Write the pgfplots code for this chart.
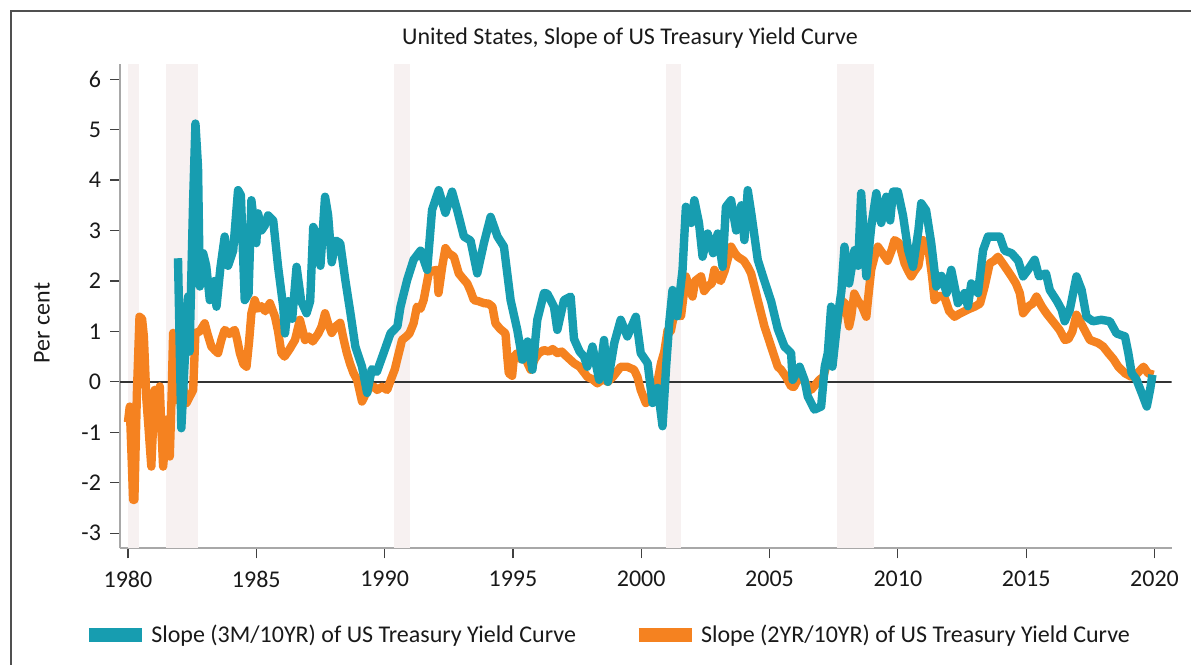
\documentclass[border=0pt]{standalone}
\usepackage{pgfplots}
\pgfplotsset{compat=1.18}
\usepackage{fontspec}
\setmainfont{Carlito}
\definecolor{teal3m}{HTML}{179DB0}
\definecolor{orange2y}{HTML}{F58220}
\definecolor{recess}{HTML}{F7F1F1}
\definecolor{axisgray}{HTML}{A8A8A8}
\definecolor{framegray}{HTML}{505050}
\definecolor{tickdark}{HTML}{404040}

\begin{document}
\begin{tikzpicture}
\useasboundingbox (0,0) rectangle (595.5pt,-332.5pt);
\clip (0,0) rectangle (595.5pt,-332.5pt);
\draw[framegray, line width=0.8pt] (5.5pt,-400pt) -- (5.5pt,-5.5pt) -- (700pt,-5.5pt);
\node[font=\fontsize{12}{14}\selectfont, text=black!90] at (315pt,-19pt) {United States, Slope of US Treasury Yield Curve};
\node[rotate=90, font=\fontsize{12}{14}\selectfont, text=black!90] at (21pt,-161.5pt) {Per cent};

\begin{axis}[
  at={(60pt,-274.15pt)}, anchor=south west,
  scale only axis, width=525.85pt, height=242.15pt,
  xmin=1979.69, xmax=2020.67, ymin=-3.30, ymax=6.30,
  xtick={1980,1985,1990,1995,2000,2005,2010,2015,2020},
  xticklabels={1980,1985,1990,1995,2000,2005,2010,2015,2020},
  ytick={-3,-2,-1,0,1,2,3,4,5,6},
  yticklabels={-3,-2,-1,0,1,2,3,4,5,6},
  axis x line*=bottom, axis y line*=left,
  separate axis lines,
  every outer x axis line/.append style={draw=axisgray, line width=1pt},
  every outer y axis line/.append style={draw=axisgray, line width=1pt},
  axis line style={draw=axisgray, line width=1pt},
  tick align=outside, major tick length=5pt,
  every tick/.style={tickdark, line width=0.6pt},
  ticklabel style={font=\fontsize{12}{14}\selectfont, text=black!90},
  xticklabel style={yshift=-3pt},
  yticklabel style={xshift=-1pt},
  clip=true,
  legend style={at={(axis description cs:-0.0367,-0.179)}, anchor=west,
    draw=none, fill=none, inner xsep=0pt, inner ysep=0pt,
    nodes={inner xsep=1.25pt},
    font=\fontsize{12}{14}\selectfont, text=black!90,
    /tikz/every even column/.append style={column sep=26.5pt}},
  legend columns=2,
  legend cell align=left,
  legend image code/.code={\draw[#1, line width=7pt, line cap=butt] (0pt,0pt) -- (26.5pt,0pt);},
]
% recession shading
\fill[recess] (axis cs:1980.0,-3.3) rectangle (axis cs:1980.42,6.3);
\fill[recess] (axis cs:1981.49,-3.3) rectangle (axis cs:1982.73,6.3);
\fill[recess] (axis cs:1990.38,-3.3) rectangle (axis cs:1990.99,6.3);
\fill[recess] (axis cs:2000.97,-3.3) rectangle (axis cs:2001.54,6.3);
\fill[recess] (axis cs:2007.64,-3.3) rectangle (axis cs:2009.07,6.3);
\draw[black!80, line width=0.75pt] (axis cs:1979.69,0) -- (axis cs:2020.67,0);

\addplot[orange2y, line width=4.2pt, line join=round, forget plot] coordinates {
(1980.00,-0.80) (1980.07,-0.49) (1980.15,-1.6) (1980.20,-2.34) (1980.25,-2.34)
(1980.35,-0.2) (1980.45,1.29) (1980.55,1.25) (1980.62,0.9) (1980.72,-0.36)
(1980.80,-0.9) (1980.91,-1.68) (1981.04,-0.16) (1981.10,-0.5) (1981.17,-0.9)
(1981.24,-0.09) (1981.30,-0.9) (1981.37,-1.68) (1981.45,-1.2) (1981.50,-0.75)
(1981.57,-1.3) (1981.63,-1.48) (1981.70,-0.3) (1981.76,0.97) (1981.83,0.3)
(1981.89,-0.36) (1982.00,-0.1) (1982.08,0.1) (1982.18,-0.2) (1982.28,-0.42)
(1982.40,-0.3) (1982.54,-0.16) (1982.63,0.97) (1982.80,1.0) (1982.99,1.16)
(1983.10,0.95) (1983.25,0.70) (1983.40,0.62) (1983.51,0.57) (1983.65,0.85)
(1983.77,1.03) (1983.95,0.95) (1984.16,1.03) (1984.25,0.85) (1984.36,0.57)
(1984.50,0.35) (1984.62,0.30) (1984.72,0.8) (1984.81,1.36) (1984.94,1.62)
(1985.05,1.45) (1985.20,1.50) (1985.35,1.40) (1985.53,1.56) (1985.73,1.29)
(1985.85,1.0) (1985.98,0.57) (1986.10,0.50) (1986.30,0.65) (1986.51,0.83)
(1986.70,1.23) (1986.90,0.83) (1987.05,0.9) (1987.20,0.80) (1987.42,0.96)
(1987.55,1.1) (1987.68,1.36) (1987.80,1.15) (1987.94,0.97) (1988.10,1.10)
(1988.27,1.17) (1988.40,0.85) (1988.53,0.57) (1988.66,0.35) (1988.79,0.17)
(1988.93,0.04) (1989.12,-0.39) (1989.30,-0.2) (1989.45,-0.1) (1989.57,-0.09)
(1989.71,-0.16) (1989.90,-0.1) (1990.10,-0.16) (1990.25,0.05) (1990.40,0.25)
(1990.49,0.44) (1990.68,0.83) (1990.85,0.90) (1990.97,0.96) (1991.13,1.16)
(1991.26,1.49) (1991.40,1.45) (1991.52,1.62) (1991.72,2.15) (1991.85,2.2)
(1992.05,2.22) (1992.10,1.76) (1992.25,2.3) (1992.37,2.65) (1992.50,2.55)
(1992.70,2.48) (1992.89,2.15) (1993.05,2.05) (1993.22,1.95) (1993.35,1.8)
(1993.48,1.62) (1993.65,1.6) (1993.87,1.56) (1994.05,1.55) (1994.20,1.49)
(1994.32,1.16) (1994.50,1.05) (1994.71,0.96) (1994.78,0.5) (1994.84,0.17)
(1994.97,0.12) (1995.04,0.50) (1995.17,0.57) (1995.30,0.45) (1995.45,0.50)
(1995.69,0.24) (1995.85,0.45) (1996.01,0.57) (1996.21,0.63) (1996.40,0.60)
(1996.55,0.65) (1996.73,0.57) (1996.90,0.6) (1997.10,0.5) (1997.38,0.37)
(1997.60,0.3) (1997.90,0.10) (1998.10,0.05) (1998.29,-0.03) (1998.50,0.05)
(1998.70,0.00) (1998.90,0.1) (1999.20,0.30) (1999.45,0.30) (1999.72,0.24)
(1999.85,0.1) (1999.98,-0.16) (2000.18,-0.42) (2000.35,-0.3) (2000.57,-0.16)
(2000.77,0.37) (2000.90,0.6) (2001.03,1.03) (2001.15,1.0) (2001.29,1.36)
(2001.55,1.30) (2001.74,2.09) (2001.85,1.9) (2002.00,1.69) (2002.10,2.00)
(2002.33,2.09) (2002.45,1.8) (2002.60,1.90) (2002.75,1.95) (2002.85,2.22)
(2003.00,2.05) (2003.10,2.00) (2003.25,2.20) (2003.50,2.68) (2003.65,2.55)
(2003.76,2.48) (2004.00,2.4) (2004.15,2.28) (2004.28,2.15) (2004.41,1.89)
(2004.54,1.62) (2004.80,1.10) (2005.06,0.70) (2005.32,0.30) (2005.45,0.24)
(2005.64,0.10) (2005.84,-0.09) (2005.95,-0.1) (2006.10,0.05) (2006.30,0.05)
(2006.45,-0.05) (2006.62,-0.16) (2006.80,-0.05) (2006.94,0.04) (2007.10,0.1)
(2007.27,0.44) (2007.40,0.7) (2007.53,0.96) (2007.65,1.2) (2007.79,1.62)
(2007.95,1.55) (2008.10,1.1) (2008.18,1.29) (2008.30,1.75) (2008.45,1.6)
(2008.60,1.50) (2008.77,1.29) (2008.85,1.7) (2008.96,2.22) (2009.10,2.5)
(2009.22,2.68) (2009.40,2.55) (2009.60,2.40) (2009.75,2.6) (2009.87,2.81)
(2010.05,2.75) (2010.26,2.35) (2010.40,2.2) (2010.52,2.09) (2010.65,2.2)
(2010.80,2.30) (2010.97,2.81) (2011.20,2.60) (2011.33,2.1) (2011.43,1.62)
(2011.60,1.7) (2011.80,1.70) (2012.00,1.4) (2012.21,1.29) (2012.40,1.35)
(2012.60,1.40) (2012.80,1.45) (2012.99,1.49) (2013.20,1.55) (2013.38,1.89)
(2013.58,2.35) (2013.75,2.4) (2013.90,2.48) (2014.15,2.30) (2014.43,2.09)
(2014.60,1.95) (2014.75,1.76) (2014.88,1.36) (2015.10,1.50) (2015.25,1.55)
(2015.40,1.69) (2015.60,1.50) (2015.80,1.35) (2015.99,1.23) (2016.30,1.03)
(2016.51,0.83) (2016.65,0.85) (2016.80,1.00) (2016.96,1.33) (2017.20,1.10)
(2017.48,0.83) (2017.80,0.77) (2018.00,0.7) (2018.20,0.57) (2018.40,0.45)
(2018.59,0.30) (2018.85,0.17) (2019.10,0.10) (2019.30,0.15) (2019.57,0.30)
(2019.75,0.17) (2019.96,0.14)
};

\addplot[teal3m, line width=4.2pt, line join=round, forget plot] coordinates {
(1981.95,2.45) (1982.08,-0.92) (1982.21,0.4) (1982.34,1.69) (1982.40,0.6)
(1982.54,3.6) (1982.63,5.12) (1982.73,4.26) (1982.80,1.89) (1982.93,2.55)
(1983.05,2.3) (1983.19,1.62) (1983.38,2.0) (1983.45,1.49) (1983.60,2.25)
(1983.77,2.88) (1983.90,2.3) (1984.10,2.6) (1984.29,3.8) (1984.40,3.7)
(1984.55,1.62) (1984.70,1.75) (1984.81,3.6) (1985.00,2.75) (1985.07,3.34)
(1985.20,3.0) (1985.33,3.1) (1985.46,3.3) (1985.66,3.2) (1985.85,2.28)
(1986.05,1.49) (1986.12,0.96) (1986.25,1.6) (1986.40,1.25) (1986.57,2.28)
(1986.75,1.6) (1986.96,1.36) (1987.10,1.6) (1987.22,3.07) (1987.42,2.83)
(1987.50,2.3) (1987.68,3.67) (1987.80,3.3) (1987.94,2.37) (1988.10,2.8)
(1988.27,2.75) (1988.47,2.02) (1988.67,1.36) (1988.86,0.70) (1989.12,0.30)
(1989.32,-0.22) (1989.50,0.25) (1989.70,0.2) (1989.96,0.57) (1990.23,0.96)
(1990.50,1.1) (1990.62,1.49) (1990.88,2.02) (1991.13,2.42) (1991.40,2.6)
(1991.66,2.22) (1991.85,3.41) (1992.11,3.8) (1992.37,3.35) (1992.63,3.77)
(1992.83,3.4) (1993.09,2.88) (1993.35,2.8) (1993.61,2.15) (1993.87,2.75)
(1994.13,3.27) (1994.40,2.88) (1994.65,2.68) (1994.91,1.62) (1995.17,1.03)
(1995.37,0.44) (1995.57,0.8) (1995.76,0.24) (1995.95,1.23) (1996.21,1.76)
(1996.34,1.75) (1996.60,1.49) (1996.73,1.03) (1996.99,1.62) (1997.25,1.69)
(1997.38,0.85) (1997.60,0.6) (1997.77,0.5) (1997.90,0.3) (1998.10,0.7)
(1998.36,0.04) (1998.55,0.83) (1998.70,0.0) (1998.95,0.77) (1999.20,1.23)
(1999.46,0.9) (1999.79,1.29) (1999.98,0.57) (2000.25,0.37) (2000.44,-0.42)
(2000.64,-0.12) (2000.83,-0.88) (2000.97,0.3) (2001.09,1.16) (2001.22,1.82)
(2001.40,1.3) (2001.61,2.22) (2001.74,3.47) (2001.95,3.15) (2002.07,3.6)
(2002.25,3.15) (2002.39,2.48) (2002.59,2.94) (2002.80,2.55) (2002.98,2.94)
(2003.17,2.28) (2003.30,3.47) (2003.50,3.6) (2003.70,3.0) (2003.90,3.5)
(2004.02,2.81) (2004.15,3.8) (2004.30,3.3) (2004.54,2.42) (2004.80,2.0)
(2005.06,1.6) (2005.32,1.05) (2005.58,0.7) (2005.84,0.57) (2005.90,0.04)
(2006.17,0.3) (2006.36,0.04) (2006.49,-0.29) (2006.75,-0.55) (2007.01,-0.49)
(2007.15,0.3) (2007.27,0.57) (2007.40,1.49) (2007.45,0.3) (2007.66,1.29)
(2007.80,1.8) (2007.92,2.68) (2008.10,1.95) (2008.31,2.61) (2008.45,2.3)
(2008.57,3.74) (2008.77,2.09) (2008.96,3.07) (2009.16,3.74) (2009.35,3.15)
(2009.55,3.67) (2009.70,3.2) (2009.81,3.77) (2010.00,3.77) (2010.20,3.3)
(2010.40,2.61) (2010.59,2.28) (2010.80,3.0) (2010.91,3.54) (2011.10,3.4)
(2011.30,2.75) (2011.50,1.89) (2011.70,2.1) (2011.90,1.76) (2012.08,2.22)
(2012.34,1.56) (2012.60,1.76) (2012.73,1.5) (2012.86,1.95) (2013.12,1.76)
(2013.32,2.61) (2013.51,2.88) (2013.77,2.88) (2013.97,2.88) (2014.16,2.6)
(2014.43,2.55) (2014.69,2.4) (2014.88,2.09) (2015.07,2.22) (2015.33,2.42)
(2015.50,2.09) (2015.77,2.15) (2015.92,1.82) (2016.20,1.6) (2016.38,1.43)
(2016.50,1.2) (2016.70,1.43) (2016.96,2.09) (2017.16,1.82) (2017.35,1.29)
(2017.60,1.2) (2017.93,1.23) (2018.26,1.2) (2018.52,0.96) (2018.85,0.9)
(2018.98,0.57) (2019.11,0.17) (2019.30,0.04) (2019.50,-0.22) (2019.70,-0.49)
(2019.83,-0.15) (2019.92,0.14)
};

\addlegendimage{teal3m, line width=3.6pt}
\addlegendentry{Slope (3M/10YR) of US Treasury Yield Curve}
\addlegendimage{orange2y, line width=3.6pt}
\addlegendentry{Slope (2YR/10YR) of US Treasury Yield Curve}
\end{axis}
\end{tikzpicture}
\end{document}
